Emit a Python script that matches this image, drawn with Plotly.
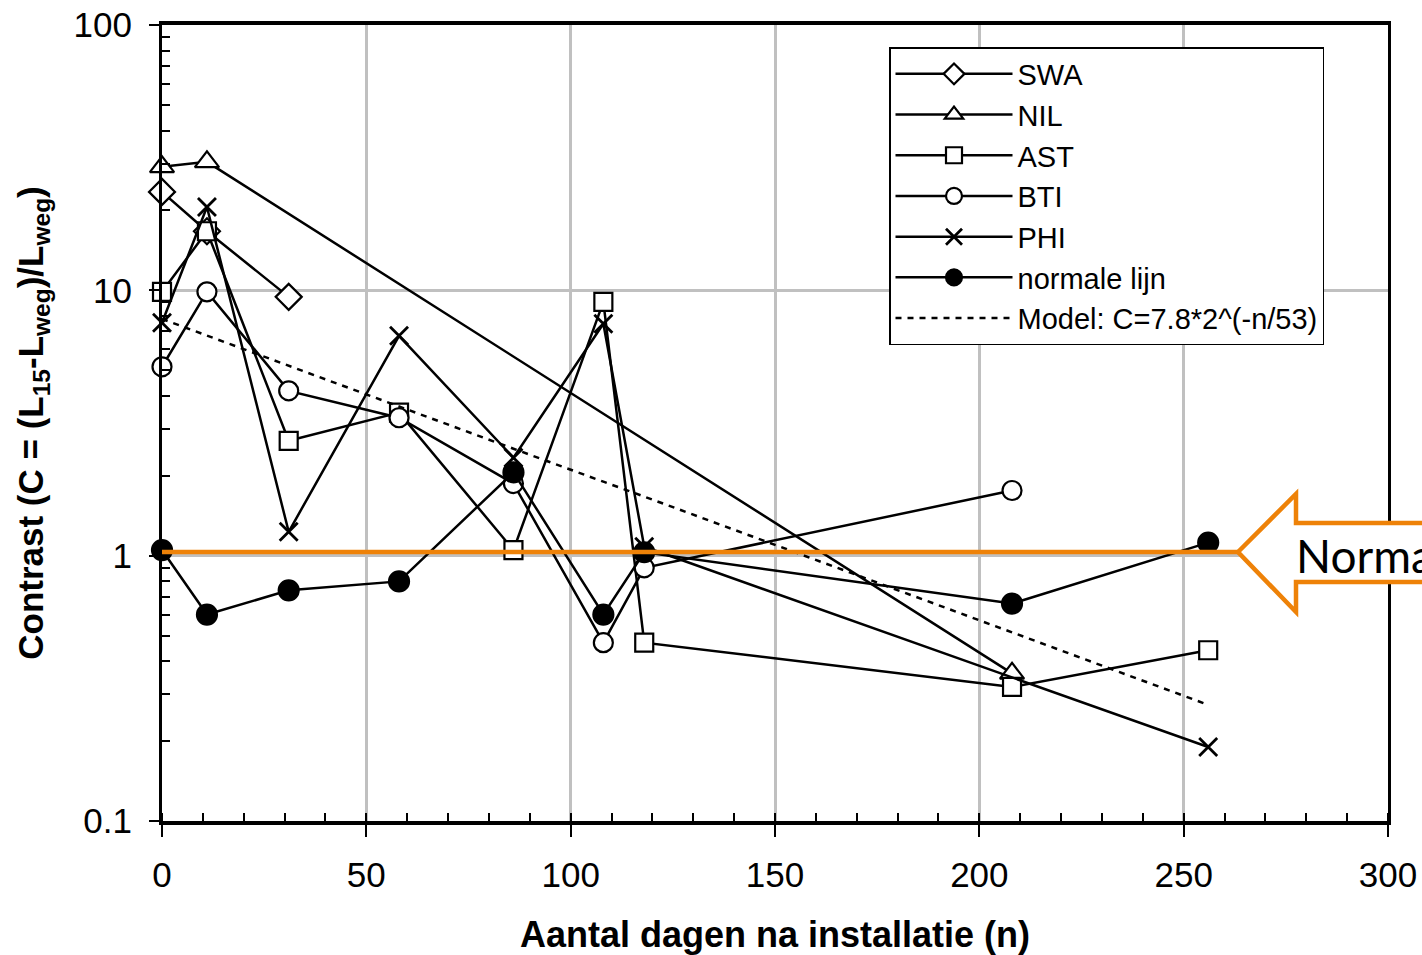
import plotly.graph_objects as go

# ---- data ----
days_swa = [0, 11, 31]
swa = [23.5, 16.7, 9.45]

days_nil = [0, 11, 208]
nil = [29.2, 30.5, 0.36]

days_ast = [0, 11, 31, 58, 86, 108, 118, 208, 256]
ast = [9.87, 16.7, 2.71, 3.46, 1.05, 9.05, 0.47, 0.32, 0.44]

days_bti = [0, 11, 31, 58, 86, 108, 118, 208]
bti = [5.15, 9.87, 4.18, 3.31, 1.87, 0.47, 0.90, 1.76]

days_phi = [0, 11, 31, 58, 86, 108, 118, 256]
phi = [7.55, 20.6, 1.23, 6.74, 2.34, 7.48, 1.08, 0.19]

days_norm = [0, 11, 31, 58, 86, 108, 118, 208, 256]
normale = [1.05, 0.60, 0.74, 0.80, 2.06, 0.60, 1.03, 0.66, 1.12]

days_model = [0, 11, 31, 58, 86, 108, 118, 208, 256]
model = [7.8, 6.75, 5.2, 3.65, 2.53, 1.90, 1.67, 0.514, 0.274]

x_ticks = [0, 50, 100, 150, 200, 250, 300]
y_ticks = [0.1, 1, 10, 100]
y_ticklabels = ["0.1", "1", "10", "100"]

# ---- figure ----
fig = go.Figure()
LW = 2.5
MS = 19


def add_series(x, y, name, symbol, fill="white", size=MS):
    fig.add_trace(go.Scatter(
        x=x, y=y, name=name, mode="lines+markers",
        line=dict(color="black", width=LW),
        marker=dict(symbol=symbol, size=size, color=fill,
                    line=dict(color="black", width=2.2)),
        cliponaxis=False,
    ))


add_series(days_swa, swa, "SWA", "diamond", size=20)
add_series(days_nil, nil, "NIL", "triangle-up", size=21)
add_series(days_ast, ast, "AST", "square", size=18)
add_series(days_bti, bti, "BTI", "circle", size=19)
fig.add_trace(go.Scatter(
    x=days_phi, y=phi, name="PHI", mode="lines+markers",
    line=dict(color="black", width=LW),
    marker=dict(symbol="x-thin", size=18, color="black",
                line=dict(color="black", width=2.8)),
    cliponaxis=False,
))
add_series(days_norm, normale, "normale lijn", "circle", fill="black", size=20)
fig.add_trace(go.Scatter(
    x=days_model, y=model, name="Model: C=7.8*2^(-n/53)", mode="lines",
    line=dict(color="black", width=2.5, dash="6px,6px"),
    cliponaxis=False,
))

# ---- layout geometry (pixels of the plot area) ----
L, R, T, B = 162, 1388, 25, 821
W, H = 1422, 955


def fx(px):
    return (px - L) / (R - L)


def fy(py):
    return (B - py) / (B - T)


orange = "#EE8208"
y_line = fy(552)
arrow_path = (
    f"M {fx(1238)},{fy(552)} L {fx(1296)},{fy(494)} L {fx(1296)},{fy(523)} "
    f"L {fx(1470)},{fy(523)} L {fx(1470)},{fy(582)} L {fx(1296)},{fy(582)} "
    f"L {fx(1296)},{fy(612)} Z"
)
fig.add_shape(type="line", xref="paper", yref="paper",
              x0=0, x1=fx(1238), y0=y_line, y1=y_line,
              line=dict(color=orange, width=4.5), layer="above")
fig.add_shape(type="path", xref="paper", yref="paper", path=arrow_path,
              fillcolor="white", line=dict(color=orange, width=4.5),
              layer="above")
fig.add_annotation(x=fx(1294), y=fy(555), xref="paper", yref="paper",
                   text="Normaal", showarrow=False, xanchor="left",
                   yanchor="middle",
                   font=dict(family="Lato", size=46, color="black"))

axis_font = dict(family="Liberation Sans, Arial", size=35, color="black")
title_font = dict(family="Liberation Sans, Arial", size=36, color="black")

fig.update_layout(
    width=W, height=H,
    margin=dict(l=L, r=W - R, t=T, b=H - B),
    paper_bgcolor="white", plot_bgcolor="white",
    showlegend=True,
    legend=dict(
        x=fx(889), y=fy(47), xanchor="left", yanchor="top",
        bgcolor="white", bordercolor="black", borderwidth=1.5,
        font=dict(family="Liberation Sans, Arial", size=29, color="black"),
        itemwidth=117, tracegroupgap=0,
    ),
    xaxis=dict(
        range=[0, 300], tickvals=x_ticks, automargin=False,
        ticks="outside", ticklen=12, tickwidth=1.5, tickcolor="black",
        ticklabelstandoff=8,
        minor=dict(ticks="inside", dtick=10, ticklen=8, tickwidth=1.5,
                   tickcolor="black", showgrid=False),
        showgrid=True, gridcolor="#C0C0C0", gridwidth=2.5,
        showline=True, linecolor="black", linewidth=3.5, mirror=True,
        zeroline=False, tickfont=axis_font,
        title=dict(text="<b>Aantal dagen na installatie (n)</b>",
                   font=title_font, standoff=32),
    ),
    yaxis=dict(
        type="log", range=[-1, 2], tickvals=y_ticks, ticktext=y_ticklabels,
        automargin=False,
        ticks="outside", ticklen=10, tickwidth=1.5, tickcolor="black",
        ticklabelstandoff=10,
        minor=dict(ticks="inside", ticklen=8, tickwidth=1.5,
                   tickcolor="black", showgrid=False,
                   tickvals=[0.2, 0.3, 0.4, 0.5, 0.6, 0.7, 0.8, 0.9,
                             2, 3, 4, 5, 6, 7, 8, 9,
                             20, 30, 40, 50, 60, 70, 80, 90]),
        showgrid=True, gridcolor="#C0C0C0", gridwidth=2.5,
        showline=True, linecolor="black", linewidth=3, mirror=True,
        zeroline=False, tickfont=axis_font,
        title=dict(text="<b>Contrast (C = (L<sub>15</sub>-L<sub>weg</sub>)/L<sub>weg</sub>)</b>",
                   font=dict(family="Liberation Sans, Arial", size=35, color="black"),
                   standoff=20),
    ),
)

fig.write_html("out.html", config={"displayModeBar": False},
               post_script="document.body.style.margin='0';")
